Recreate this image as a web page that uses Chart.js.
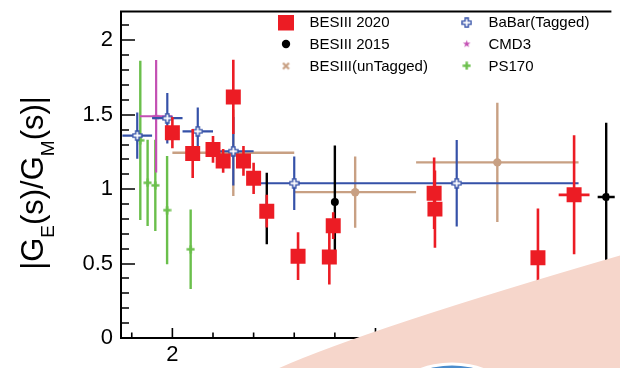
<!DOCTYPE html>
<html><head><meta charset="utf-8">
<script src="https://cdn.jsdelivr.net/npm/chart.js@4.4.1/dist/chart.umd.min.js"></script>
<style>html,body{margin:0;padding:0;background:#fff;overflow:hidden}#wrap{width:620px;height:368px;position:relative}</style>
</head><body><div id="wrap"><canvas id="c" width="620" height="368"></canvas></div>
<script>
// ---------- data ----------
const bes2020X    = [2.0, 2.05, 2.1, 2.125, 2.15, 2.175, 2.2, 2.2324, 2.3094, 2.3864, 2.396, 2.6444, 2.6464, 2.9, 2.989];
const bes2020Y    = [1.38, 1.24, 1.267, 1.19, 1.62, 1.19, 1.073, 0.852, 0.55, 0.545, 0.755, 0.973, 0.866, 0.54, 0.962];
const bes2020Err  = [0.105, 0.165, 0.09, 0.08, 0.25, 0.10, 0.105, 0.11, 0.16, 0.185, 0.09, 0.24, 0.26, 0.33, 0.40];
const bes2020XErr = [0, 0, 0, 0, 0, 0, 0, 0, 0, 0, 0, 0, 0, 0, 0.038];

const bes2015X    = [2.2324, 2.4, 3.068];
const bes2015Y    = [0.87, 0.914, 0.947];
const bes2015Err  = [0.24, 0.38, 0.5];
const bes2015XErr = [0, 0, 0.021];

const untagX    = [2.15, 2.45, 2.8];
const untagY    = [1.245, 0.98, 1.18];
const untagErr  = [0.29, 0.24, 0.40];
const untagXErr = [0.15, 0.15, 0.2];

const babarX    = [1.9135, 1.9875, 2.0625, 2.15, 2.30, 2.70];
const babarY    = [1.36, 1.477, 1.389, 1.255, 1.04, 1.04];
const babarErr  = [0.155, 0.17, 0.16, 0.23, 0.18, 0.29];
const babarXErr = [0.0365, 0.0375, 0.0375, 0.05, 0.1, 0.3];

const cmd3X    = [1.96];
const cmd3Y    = [1.49];
const cmd3Err  = [0.378];
const cmd3XErr = [0.04];

const ps170X   = [1.921, 1.939, 1.958, 1.987, 2.045];
const ps170Y   = [1.328, 1.043, 1.026, 0.859, 0.596];
const ps170Err = [0.535, 0.29, 0.307, 0.364, 0.267];

const seriesNames = ['BESIII 2020', 'BESIII 2015', 'BESIII(unTagged)', 'BaBar(Tagged)', 'CMD3', 'PS170'];
const xTickLabels = [2, 2.5, 3];
const yTickLabels = [0, 0.5, 1, 1.5, 2];
const xRange = [1.8735, 3.0759];
const yRange = [0, 2.2];

// ---------- styles ----------
const RED = '#ec1c24', BLACK = '#000000', TAN = '#c8a083', BLUE = '#3551a8', MAG = '#c34fb3', GREEN = '#6abf4b';
const FONT = '"Liberation Sans", Arial, Helvetica, sans-serif';

function mkCanvas(w, h, fn) { const cv = document.createElement('canvas'); cv.width = w; cv.height = h; fn(cv.getContext('2d'), w, h); return cv; }
const openCross = mkCanvas(11, 11, (c) => {
  const m = 5.5, a = 1.6, e = 4.5;
  c.beginPath();
  c.moveTo(m - a, m - e); c.lineTo(m + a, m - e); c.lineTo(m + a, m - a); c.lineTo(m + e, m - a); c.lineTo(m + e, m + a);
  c.lineTo(m + a, m + a); c.lineTo(m + a, m + e); c.lineTo(m - a, m + e); c.lineTo(m - a, m + a); c.lineTo(m - e, m + a);
  c.lineTo(m - e, m - a); c.lineTo(m - a, m - a); c.closePath();
  c.fillStyle = '#fff'; c.fill(); c.strokeStyle = BLUE; c.lineWidth = 1.4; c.stroke();
});
const starMark = mkCanvas(9, 9, (c) => {
  c.beginPath();
  for (let i = 0; i < 10; i++) {
    const r = i % 2 ? 1.6 : 4, ang = -Math.PI / 2 + i * Math.PI / 5;
    const x = 4.5 + r * Math.cos(ang), y = 4.7 + r * Math.sin(ang);
    i ? c.lineTo(x, y) : c.moveTo(x, y);
  }
  c.closePath(); c.fillStyle = MAG; c.fill();
});
const plusMark = mkCanvas(9, 9, (c) => {
  c.fillStyle = GREEN; c.fillRect(3.3, 0.5, 2.4, 8); c.fillRect(0.5, 3.3, 8, 2.4);
});
const xMark = mkCanvas(9, 9, (c) => {
  c.strokeStyle = TAN; c.lineWidth = 2.2;
  c.beginPath(); c.moveTo(1.5, 1.5); c.lineTo(7.5, 7.5); c.moveTo(7.5, 1.5); c.lineTo(1.5, 7.5); c.stroke();
});

function pts(xs, ys, es, exs) {
  return xs.map((x, i) => ({ x: x, y: ys[i], e: es[i], ex: exs ? exs[i] : 0 }));
}

// order: index 0 drawn on top
const datasets = [
  { label: seriesNames[0], data: pts(bes2020X, bes2020Y, bes2020Err, bes2020XErr), pointStyle: 'rect', pointRadius: 10.6, backgroundColor: RED, borderWidth: 0, errColor: RED, errWidth: 2.6 },
  { label: seriesNames[1], data: pts(bes2015X, bes2015Y, bes2015Err, bes2015XErr), pointStyle: 'circle', pointRadius: 4, backgroundColor: BLACK, borderWidth: 0, errColor: BLACK, errWidth: 2.4 },
  { label: seriesNames[3], data: pts(babarX, babarY, babarErr, babarXErr), pointStyle: openCross, pointRadius: 5, errColor: BLUE, errWidth: 2.2 },
  { label: seriesNames[2], data: pts(untagX, untagY, untagErr, untagXErr), pointStyle: 'circle', pointRadius: 4.2, backgroundColor: TAN, borderWidth: 0, errColor: TAN, errWidth: 2.4 },
  { label: seriesNames[4], data: pts(cmd3X, cmd3Y, cmd3Err, cmd3XErr), pointStyle: starMark, pointRadius: 4, errColor: MAG, errWidth: 2.2 },
  { label: seriesNames[5], data: pts(ps170X, ps170Y, ps170Err, null), pointStyle: plusMark, pointRadius: 4, errColor: GREEN, errWidth: 2.4 }
];

const errorBars = {
  id: 'errorBars',
  beforeDatasetDraw(chart, args) {
    const ds = chart.data.datasets[args.index];
    const xs = chart.scales.x, ys = chart.scales.y, c = chart.ctx, a = chart.chartArea;
    c.save();
    c.beginPath(); c.rect(a.left, a.top, a.right - a.left + 10, a.bottom - a.top); c.clip();
    c.strokeStyle = ds.errColor; c.lineWidth = ds.errWidth; c.lineCap = 'butt';
    ds.data.forEach(p => {
      const px = xs.getPixelForValue(p.x), py = ys.getPixelForValue(p.y);
      c.beginPath();
      c.moveTo(px, ys.getPixelForValue(p.y - p.e)); c.lineTo(px, ys.getPixelForValue(p.y + p.e));
      if (p.ex) { c.moveTo(xs.getPixelForValue(p.x - p.ex), py); c.lineTo(xs.getPixelForValue(p.x + p.ex), py); }
      c.stroke();
    });
    c.restore();
  }
};

const frameAndDecor = {
  id: 'frameAndDecor',
  afterDatasetsDraw(chart) {
    const c = chart.ctx, a = chart.chartArea, xs = chart.scales.x, ys = chart.scales.y;
    c.save();
    c.strokeStyle = '#000'; c.lineWidth = 2;
    c.beginPath();
    c.moveTo(a.left, a.bottom); c.lineTo(a.left, a.top + 1); c.lineTo(a.right + 2, a.top + 1);
    c.moveTo(a.left - 1, a.bottom); c.lineTo(a.right + 2, a.bottom);
    c.stroke();
    c.lineWidth = 1.6;
    c.beginPath();
    for (let k = 1; k < 22; k++) {
      const v = k / 10, py = Math.round(ys.getPixelForValue(v)) + 0.0;
      const len = (k % 5 === 0) ? 14 : 8;
      c.moveTo(a.left, py); c.lineTo(a.left + len, py);
    }
    for (let k = 19; k <= 30; k++) {
      const v = k / 10, px = xs.getPixelForValue(v);
      if (px < a.left + 2 || px > a.right) continue;
      const len = (k % 5 === 0) ? 10 : 5.5;
      c.moveTo(px, a.bottom); c.lineTo(px, a.bottom - len);
    }
    c.stroke();

    // title
    c.translate(43, 183); c.rotate(-Math.PI / 2);
    const S = 31, sub = Math.round(S * 0.6), dy = S * 0.36;
    const parts = [['|G', 0], ['E', 1], ['(s)/G', 0], ['M', 1], ['(s)|', 0]];
    let w = 0;
    parts.forEach(([t, s]) => { c.font = (s ? sub : S) + 'px ' + FONT; w += c.measureText(t).width; });
    let x = -w / 2;
    c.fillStyle = '#000'; c.textBaseline = 'alphabetic';
    parts.forEach(([t, s]) => { c.font = (s ? sub : S) + 'px ' + FONT; c.fillText(t, x, s ? dy : 0); x += c.measureText(t).width; });
    c.setTransform(1, 0, 0, 1, 0, 0);

    // legend
    c.font = '15px ' + FONT; c.fillStyle = '#000'; c.textBaseline = 'alphabetic';
    const rows = [27.3, 49.2, 70.7];
    const col1 = 309.5, col2 = 488.5, m1 = 286, m2 = 466.7;
    c.fillText(seriesNames[0], col1, rows[0]);
    c.fillText(seriesNames[1], col1, rows[1]);
    c.fillText(seriesNames[2], col1, rows[2]);
    c.fillText(seriesNames[3], col2, rows[0]);
    c.fillText(seriesNames[4], col2, rows[1]);
    c.fillText(seriesNames[5], col2, rows[2]);
    c.fillStyle = RED; c.fillRect(m1 - 8, 15, 16, 15.5);
    c.fillStyle = BLACK; c.beginPath(); c.arc(m1, 44, 4.2, 0, Math.PI * 2); c.fill();
    c.drawImage(xMark, m1 - 4.5, 66 - 4.5);
    c.drawImage(openCross, m2 - 5.5, 22.7 - 5.5);
    c.drawImage(starMark, m2 - 4.5, 43.7 - 4.5);
    c.drawImage(plusMark, m2 - 4.5, 65.7 - 4.5);
    c.restore();
  },
  afterDraw(chart) {
    const c = chart.ctx;
    c.save();
    c.fillStyle = 'rgb(246,214,203)';
    c.beginPath();
    c.moveTo(262, 376);
    c.quadraticCurveTo(343, 336, 622, 255);
    c.lineTo(640, 249); c.lineTo(640, 380); c.lineTo(250, 380); c.closePath();
    c.fill();
    c.fillStyle = '#ffffff';
    c.beginPath(); c.arc(452, 455.5, 93, 0, Math.PI * 2); c.fill();
    c.fillStyle = '#4b8ccc';
    c.beginPath(); c.arc(452, 455.5, 90, 0, Math.PI * 2); c.fill();
    c.restore();
  }
};

new Chart(document.getElementById('c').getContext('2d'), {
  type: 'scatter',
  data: { datasets: datasets },
  options: {
    responsive: false, animation: false, events: [],
    layout: { padding: { top: 6, right: 0, left: 0, bottom: 0 } },
    plugins: { legend: { display: false }, tooltip: { enabled: false } },
    scales: {
      x: {
        type: 'linear', min: xRange[0], max: xRange[1],
        grid: { display: false, drawTicks: false }, border: { display: false },
        afterBuildTicks(s) { s.ticks = xTickLabels.map(v => ({ value: v })); },
        afterFit(s) { s.height = 30; s.paddingLeft = 0; s.paddingRight = 0; s.paddingTop = 0; s.paddingBottom = 0; },
        ticks: { color: '#000', font: { family: FONT, size: 22 }, padding: 4, maxRotation: 0, autoSkip: false, callback: v => String(v) }
      },
      y: {
        type: 'linear', min: yRange[0], max: yRange[1],
        grid: { display: false, drawTicks: false }, border: { display: false },
        afterBuildTicks(s) { s.ticks = yTickLabels.map(v => ({ value: v })); },
        afterFit(s) { s.width = 121; s.paddingLeft = 0; s.paddingRight = 0; s.paddingTop = 0; s.paddingBottom = 0; },
        ticks: { color: '#000', font: { family: FONT, size: 22 }, padding: 8, autoSkip: false, callback: v => String(v) }
      }
    }
  },
  plugins: [errorBars, frameAndDecor]
});
</script>
</body></html>
